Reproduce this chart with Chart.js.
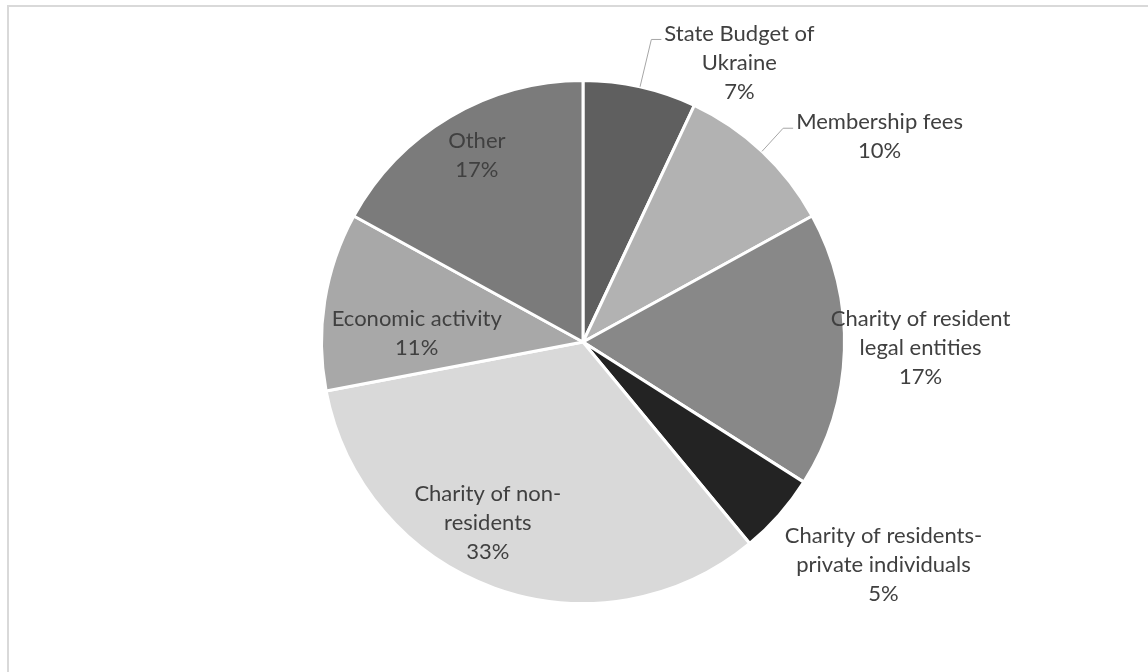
<!DOCTYPE html>
<html>
<head>
<meta charset="utf-8">
<script src="https://cdn.jsdelivr.net/npm/chart.js@4.4.1/dist/chart.umd.min.js"></script>
<style>
  html, body { margin: 0; padding: 0; background: #fff; overflow: hidden; }
  #frame { position: absolute; left: 7px; top: 5px; width: 1200px; height: 720px;
           border-top: 2px solid #d9d9d9; border-left: 2px solid #d9d9d9; }
  #wrap { position: absolute; left: 0; top: 0; width: 1148px; height: 672px; }
</style>
</head>
<body>
<div id="frame"></div>
<div id="wrap"><canvas id="pie" width="1148" height="672"></canvas></div>
<script>
// source-of-funds split, clockwise from 12 o'clock
const categories = [
  ['State Budget of', 'Ukraine'],
  ['Membership fees'],
  ['Charity of resident', 'legal entities'],
  ['Charity of residents-', 'private individuals'],
  ['Charity of non-', 'residents'],
  ['Economic activity'],
  ['Other']
];
const shares = [7, 10, 17, 5, 33, 11, 17];
const sliceColors = ['#5f5f5f', '#b2b2b2', '#888888', '#232323', '#d9d9d9', '#a8a8a8', '#7b7b7b'];

// label block centre, relative to pie centre, in radius units; leader = draw a callout line
const labelLayout = [
  { dx: 0.598, dy: -1.069, leader: true },
  { dx: 1.134, dy: -0.785, leader: true },
  { dx: 1.291, dy: 0.023 },
  { dx: 1.149, dy: 0.851 },
  { dx: -0.364, dy: 0.690 },
  { dx: -0.636, dy: -0.031 },
  { dx: -0.406, dy: -0.713 }
];

const FONT = '22px Lato';
const LINE_H = 29;

const pieLabels = {
  id: 'pieLabels',
  afterDatasetsDraw(chart) {
    const ctx = chart.ctx;
    const arcs = chart.getDatasetMeta(0).data;
    ctx.save();
    ctx.font = FONT;
    ctx.textAlign = 'center';
    ctx.textBaseline = 'middle';
    arcs.forEach((arc, i) => {
      const { x, y, outerRadius: r, startAngle, endAngle } = arc.getProps(['x', 'y', 'outerRadius', 'startAngle', 'endAngle'], true);
      const lay = labelLayout[i];
      const lines = categories[i].concat([shares[i] + '%']);
      const cx = x + lay.dx * r;
      const cy = y + lay.dy * r;
      const top = cy - (lines.length - 1) * LINE_H / 2;

      if (lay.leader) {
        const mid = (startAngle + endAngle) / 2;
        const ex = x + Math.cos(mid) * r;
        const ey = y + Math.sin(mid) * r;
        const w = ctx.measureText(lines[0]).width;
        const lx = cx - w / 2 - 3;
        const ly = top + 6;
        ctx.strokeStyle = '#a6a6a6';
        ctx.lineWidth = 1;
        ctx.beginPath();
        ctx.moveTo(ex, ey);
        ctx.lineTo(lx - 10, ly);
        ctx.lineTo(lx, ly);
        ctx.stroke();
      }

      ctx.fillStyle = '#404040';
      lines.forEach((t, k) => ctx.fillText(t, cx, top + k * LINE_H));
    });
    ctx.restore();
  }
};

new Chart(document.getElementById('pie'), {
  type: 'pie',
  data: {
    labels: categories.map(c => c.join(' ')),
    datasets: [{
      data: shares,
      backgroundColor: sliceColors,
      borderColor: '#ffffff',
      borderWidth: 3
    }]
  },
  options: {
    responsive: false,
    animation: false,
    layout: { padding: { left: 300, right: 282, top: 79, bottom: 67 } },
    plugins: { legend: { display: false }, tooltip: { enabled: false } }
  },
  plugins: [pieLabels]
});
</script>
</body>
</html>
